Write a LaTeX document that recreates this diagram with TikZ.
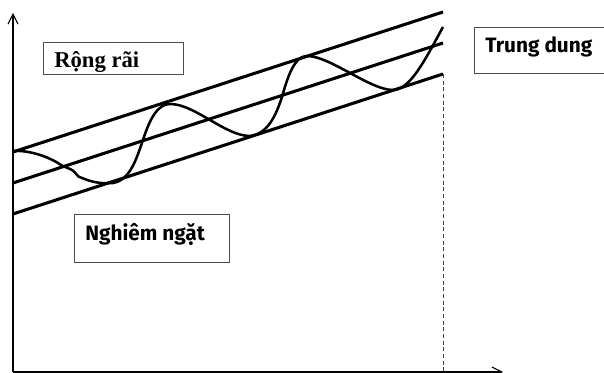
\documentclass[tikz,border=0pt]{standalone}
\usepackage{fontspec}
\setmainfont{Liberation Serif}
\newfontfamily\labelsans{Fira Sans}
\usetikzlibrary{arrows.meta}
\begin{document}
\begin{tikzpicture}[x=0.75pt, y=-0.75pt,
  axis/.style={line width=0.8pt, -{Straight Barb[length=7.5pt, width=7.5pt, line width=0.8pt]}},
  band/.style={line width=2.3pt},
  wave/.style={line width=1.9pt, line join=round},
  guide/.style={line width=0.7pt, densely dashed, black!75},
  framebox/.style={draw=black!70, line width=0.7pt, inner sep=0pt, anchor=north west},
  serifbold/.style={inner sep=0pt, anchor=base west, font=\fontsize{17}{20}\selectfont\bfseries},
  sansbold/.style={inner sep=0pt, anchor=base west, font=\labelsans\fontsize{15.6}{19}\selectfont\bfseries}]
  \useasboundingbox (0,0) rectangle (604,373);

  % axes
  \coordinate (O) at (13,372);
  \coordinate (ytop) at (13,13);
  \coordinate (xend) at (503,372);
  \draw[axis] (O) -- (ytop);
  \draw[axis] (O) -- (xend);

  % three parallel bands
  \coordinate (t0) at (13,152);  \coordinate (t1) at (443,12);
  \coordinate (m0) at (13,183);  \coordinate (m1) at (443,43);
  \coordinate (b0) at (13,214);  \coordinate (b1) at (443,74);
  \draw[band] (t0) -- (t1);
  \draw[band] (m0) -- (m1);
  \draw[band] (b0) -- (b1);

  % dashed drop line
  \coordinate (foot) at (443,372);
  \draw[guide] (b1) -- (foot);

  % oscillating curve
  \draw[wave] (13,151)
    .. controls (30,150) and (48,157) .. (58,163)
    .. controls (62,166) and (63,166) .. (70,169)
    .. controls (77,172) and (76,177) .. (82,178)
    .. controls (92,182) and (100,184) .. (113,183)
    .. controls (130,180) and (136,160) .. (143,140)
    .. controls (150,118) and (158,104) .. (170,104)
    .. controls (195,104) and (225,136) .. (250,136)
    .. controls (268,134) and (276,115) .. (282,97)
    .. controls (288,75) and (295,56) .. (307,56)
    .. controls (330,56) and (370,90) .. (393,90)
    .. controls (410,90) and (425,60) .. (443,27);

  % labelled boxes
  \node[framebox, minimum width=105pt, minimum height=24pt] (rr) at (43,42) {};
  \node[serifbold] (rrt) at (54,68) {Rộng rãi};
  \node[framebox, minimum width=110pt, minimum height=34.5pt] (td) at (474,27) {};
  \node[sansbold] (tdt) at (485,53) {Trung dung};
  \node[framebox, minimum width=116pt, minimum height=36pt] (nn) at (74,214) {};
  \node[sansbold] (nnt) at (85,241) {Nghiêm ngặt};
\end{tikzpicture}
\end{document}
